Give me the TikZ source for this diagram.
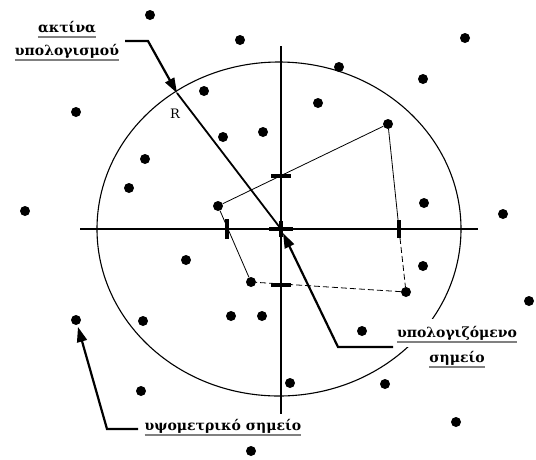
\documentclass[tikz,border=0pt]{standalone}
\usepackage{fontspec}
\setmainfont{DejaVu Serif}
\usetikzlibrary{arrows.meta,calc}
\begin{document}
\begin{tikzpicture}[x=1pt,y=-1pt,
  dot/.style={circle,fill=black,inner sep=0pt,minimum size=10pt},
  axisline/.style={line width=1.6pt},
  circline/.style={line width=1.1pt},
  polyline/.style={line width=0.8pt},
  polydash/.style={line width=0.8pt,dash pattern=on 6pt off 3pt},
  tickmark/.style={line width=3.5pt},
  radline/.style={line width=1.8pt},
  pointer/.style={line width=2.2pt,-{Triangle[length=15pt,width=10pt]}},
  lbl/.style={font=\fontsize{14}{16}\selectfont\bfseries,inner xsep=0pt,inner ysep=2pt,anchor=base},
  uline/.style={line width=1.3pt,gray}]
\useasboundingbox (0,0) rectangle (536,459);
\fill[white] (0,0) rectangle (536,459);

% ellipse (computation circle)
\coordinate (C) at (279,229);
\draw[circline] (C) ellipse [x radius=182pt, y radius=167pt];

% axes
\coordinate (xl) at (80,229);
\coordinate (xr) at (478,229);
\coordinate (yt) at (281,46);
\coordinate (yb) at (281,414);
\coordinate (O) at (281,229);
\draw[axisline] (xl) -- (xr);
\draw[axisline] (yt) -- (yb);

% dots
\foreach \px/\py [count=\i] in {150/15,240/40,465/38,339/67,204/91,423/79,76/112,318/103,263/132,223/137,
  388/124,145/159,129/188,25/211,218/206,424/203,503/214,186/260,251/282,423/266,
  406/292,529/301,76/320,143/321,231/316,262/316,362/331,290/383,385/384,141/391,
  456/422,251/451}
  \node[dot] (d\i) at (\px,\py) {};

% polygon of neighbours
\coordinate (tR) at (399,229);
\draw[polyline] (d15) -- (d11);
\draw[polyline] (d11) -- (tR);
\draw[polydash] (tR) -- (d21);
\draw[polydash] (d21) -- (d19);
\draw[polyline] (d19) -- (d15);

% tick marks where the polygon meets the axes
\coordinate (tT) at (281,176);
\coordinate (tB) at (281,285);
\coordinate (tL) at (227,229);
\draw[tickmark] ([xshift=-10pt]tT) -- ([xshift=10pt]tT);
\draw[tickmark] ([xshift=-10pt]tB) -- ([xshift=10pt]tB);
\draw[tickmark] ([yshift=-10pt]tL) -- ([yshift=10pt]tL);
\draw[tickmark] ([yshift=-9pt]tR) -- ([yshift=9pt]tR);
\draw[tickmark] ([xshift=-12pt]O) -- ([xshift=12pt]O);
\draw[tickmark] ([yshift=-8pt]O) -- ([yshift=8pt]O);

% radius
\coordinate (R) at (177,93);
\draw[radline] (R) -- (O);
\node[font=\fontsize{13}{15}\selectfont] (rlab) at (175,114) {R};

% labels
\node[lbl] (l1) at (67,32) {ακτίνα};
\node[lbl] (l2) at (67,55) {υπολογισμού};
\node[lbl,fill=white,inner xsep=4pt,inner ysep=7pt] (l3) at (457,337) {υπολογιζόμενο};
\node[lbl] (l4) at (457,362) {σημείο};
\node[lbl] (l5) at (223,430) {υψομετρικό σημείο};
\foreach \n/\s in {l1/0pt,l2/0pt,l3/4pt,l4/0pt,l5/0pt}
  \draw[uline] ([xshift=\s,yshift=-5pt]\n.base west) -- ([xshift=-\s,yshift=-5pt]\n.base east);

% pointers
\coordinate (a1) at (125,41);
\coordinate (a1k) at (148,41);
\draw[pointer] (a1) -- (a1k) -- (R);

\coordinate (a2) at (393,347);
\coordinate (a2k) at (338,347);
\coordinate (Ot) at (283,233);
\draw[pointer] (a2) -- (a2k) -- (Ot);

\coordinate (a3) at (138,429);
\coordinate (a3k) at (107,429);
\draw[pointer,shorten >=2pt] (a3) -- (a3k) -- (d23);
\end{tikzpicture}
\end{document}
